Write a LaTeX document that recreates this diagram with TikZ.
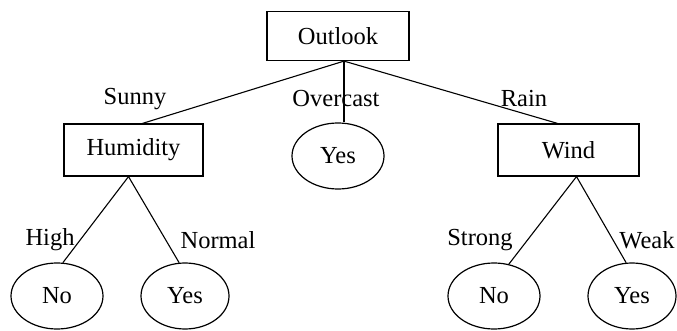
\documentclass[tikz,border=0pt]{standalone}
\usepackage{fontspec}
\setmainfont{Liberation Serif}
\newfontfamily\treefont{Liberation Serif}
\usetikzlibrary{shapes.geometric}
\begin{document}
\begin{tikzpicture}[x=1pt,y=-1pt,
  every node/.style={font=\treefont\fontsize{24.5}{28}\selectfont, inner sep=0pt},
  testbox/.style={draw, line width=1.2pt, rectangle, minimum height=49pt},
  leaf/.style={draw, line width=1.2pt, ellipse, minimum width=90pt, minimum height=66pt},
  branch/.style={line width=1.1pt},
  lbl/.style={}]
  \useasboundingbox[fill=white] (0,0) rectangle (677,331);

  % attribute tests
  \node[testbox, minimum width=142pt] (out) at (338,36) {Outlook};
  \node[testbox, minimum width=139pt, minimum height=52pt] (hum) at (133.5,150) {Humidity};
  \node[testbox, minimum width=141pt, minimum height=52pt] (wind) at (568.5,150) {Wind};

  % leaves
  \node[leaf, minimum width=92pt] (yesm) at (338,156) {Yes};
  \node[leaf, minimum width=92pt] (no1) at (57,296) {No};
  \node[leaf, minimum width=88pt] (yes1) at (185,296) {Yes};
  \node[leaf, minimum width=92pt] (no2) at (494,296) {No};
  \node[leaf, minimum width=88pt] (yes2) at (632,296) {Yes};

  % branches
  \draw[branch] ([xshift=6pt]out.south) -- ([xshift=9pt]hum.north);
  \draw[branch] ([xshift=6pt]out.south) -- ([xshift=6pt]yesm.north);
  \draw[branch] ([xshift=6pt]out.south) -- ([xshift=-11pt]wind.north);
  \draw[branch] ([xshift=-5pt]hum.south) -- (no1.80);
  \draw[branch] ([xshift=-5pt]hum.south) -- (yes1.100);
  \draw[branch] ([xshift=8pt]wind.south) -- (no2.65);
  \draw[branch] ([xshift=8pt]wind.south) -- (yes2.100);

  % branch labels
  \node[lbl] (lsun) at (135,99) {Sunny};
  \node[lbl] (lover) at (336,99) {Overcast};
  \node[lbl] (lrain) at (524,99) {Rain};
  \node[lbl] (lhigh) at (50,240) {High};
  \node[lbl] (lnorm) at (218,240) {Normal};
  \node[lbl] (lstr) at (480,240) {Strong};
  \node[lbl] (lweak) at (647,240) {Weak};
\end{tikzpicture}
\end{document}
